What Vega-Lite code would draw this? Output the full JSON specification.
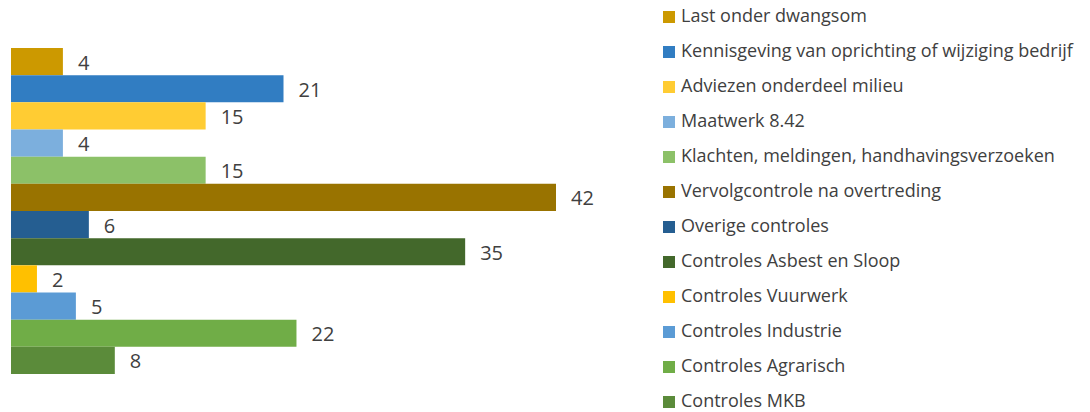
{
  "$schema": "https://vega.github.io/schema/vega-lite/v6.json",
  "width": 545,
  "height": 326,
  "autosize": "none",
  "padding": {"left": 11, "top": 48, "right": 534, "bottom": 38},
  "background": "white",
  "config": {"view": {"stroke": null}, "font": "Open Sans"},
  "data": {"values": [
    {"cat": "Last onder dwangsom", "value": 4},
    {"cat": "Kennisgeving van oprichting of wijziging bedrijf", "value": 21},
    {"cat": "Adviezen onderdeel milieu", "value": 15},
    {"cat": "Maatwerk 8.42", "value": 4},
    {"cat": "Klachten, meldingen, handhavingsverzoeken", "value": 15},
    {"cat": "Vervolgcontrole na overtreding", "value": 42},
    {"cat": "Overige controles", "value": 6},
    {"cat": "Controles Asbest en Sloop", "value": 35},
    {"cat": "Controles Vuurwerk", "value": 2},
    {"cat": "Controles Industrie", "value": 5},
    {"cat": "Controles Agrarisch", "value": 22},
    {"cat": "Controles MKB", "value": 8}
  ]},
  "encoding": {
    "y": {"field": "cat", "type": "nominal", "sort": null, "axis": null,
          "scale": {"paddingInner": 0, "paddingOuter": 0}},
    "x": {"field": "value", "type": "quantitative", "axis": null,
          "scale": {"domain": [0, 42], "nice": false}}
  },
  "layer": [
    {
      "mark": {"type": "bar"},
      "encoding": {
        "color": {
          "field": "cat", "type": "nominal", "sort": null,
          "scale": {
            "domain": ["Last onder dwangsom", "Kennisgeving van oprichting of wijziging bedrijf", "Adviezen onderdeel milieu", "Maatwerk 8.42", "Klachten, meldingen, handhavingsverzoeken", "Vervolgcontrole na overtreding", "Overige controles", "Controles Asbest en Sloop", "Controles Vuurwerk", "Controles Industrie", "Controles Agrarisch", "Controles MKB"],
            "range": ["#CC9900", "#317DC2", "#FFCC33", "#7CAFDD", "#8CC168", "#997300", "#255E91", "#43682B", "#FFC000", "#5B9BD5", "#70AD47", "#5B8B3A"]
          },
          "legend": {
            "title": null, "orient": "none", "legendX": 649, "legendY": -40,
            "symbolType": "square", "symbolSize": 144, "symbolStrokeWidth": 0,
            "labelFontSize": 18, "labelColor": "#404040", "labelOffset": 3,
            "rowPadding": 17, "labelLimit": 500
          }
        }
      }
    },
    {
      "mark": {"type": "text", "align": "left", "baseline": "middle", "dx": 15, "dy": 2, "fontSize": 20, "color": "#404040"},
      "encoding": {"text": {"field": "value", "type": "quantitative"}}
    }
  ]
}
